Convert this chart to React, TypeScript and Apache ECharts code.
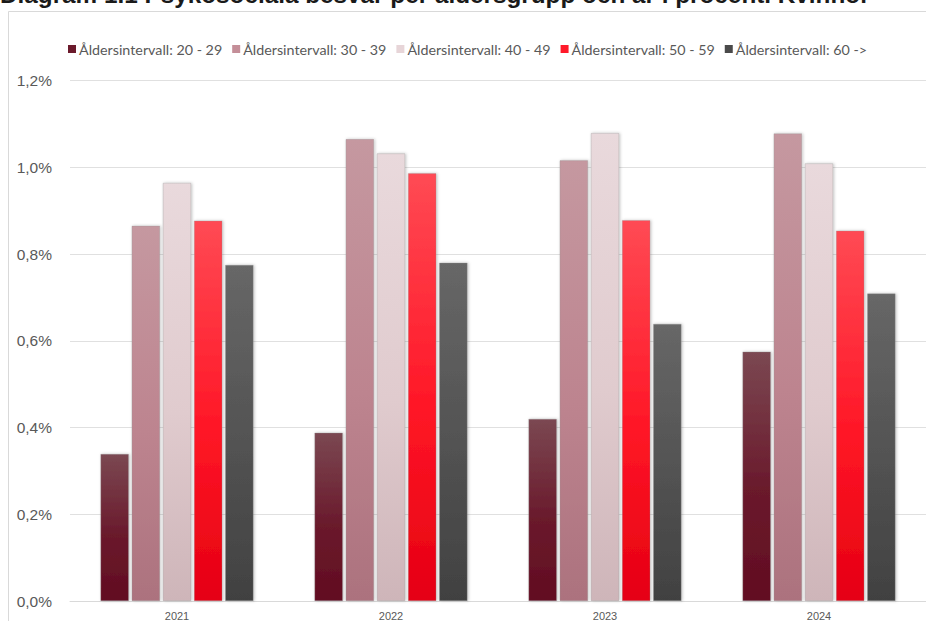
import React, { useEffect, useRef } from "react";
import * as echarts from "echarts";

const titleText = "Diagram 1.1 Psykosociala besvär per åldersgrupp och år i procent. Kvinnor";
const years = ["2021", "2022", "2023", "2024"];
const seriesNames = [
  "Åldersintervall: 20 - 29",
  "Åldersintervall: 30 - 39",
  "Åldersintervall: 40 - 49",
  "Åldersintervall: 50 - 59",
  "Åldersintervall: 60 ->",
];
const age20_29 = [0.339, 0.388, 0.42, 0.575];
const age30_39 = [0.865, 1.065, 1.016, 1.078];
const age40_49 = [0.964, 1.032, 1.079, 1.009];
const age50_59 = [0.877, 0.986, 0.878, 0.854];
const age60plus = [0.775, 0.78, 0.639, 0.709];
const yTicks = [0, 0.2, 0.4, 0.6, 0.8, 1.0, 1.2];

const seriesValues = [age20_29, age30_39, age40_49, age50_59, age60plus];
const gradients = [
  ["#7b4852", "#6a1a2c", "#620c21"],
  ["#c598a0", "#bd848f", "#ac727e"],
  ["#e9d9dc", "#e0cbce", "#ceb5b9"],
  ["#ff4a54", "#ff1626", "#e50012"],
  ["#676767", "#525252", "#414141"],
];
const legendColors = ["#6b1a2c", "#c48e98", "#e7d5d8", "#ff1a2a", "#4a4a4a"];

export default function App() {
  const ref = useRef<HTMLDivElement>(null);
  useEffect(() => {
    if (!ref.current) return;
    const chart = echarts.init(ref.current, undefined, { renderer: "svg" });
    const series = seriesNames.map((name, i) => ({
      name,
      type: "bar",
      data: seriesValues[i],
      barGap: "10%",
      barCategoryGap: "28.5%",
      itemStyle: {
        color: new echarts.graphic.LinearGradient(0, 0, 0, 1, [
          { offset: 0, color: gradients[i][0] },
          { offset: 0.55, color: gradients[i][1] },
          { offset: 1, color: gradients[i][2] },
        ]),
        borderColor: "rgba(150,150,150,0.55)",
        borderWidth: 0.6,
        shadowBlur: 3,
        shadowColor: "rgba(0,0,0,0.25)",
        shadowOffsetX: 1,
      },
    }));
    chart.setOption({
      animation: false,
      backgroundColor: "#ffffff",
      textStyle: { fontFamily: "Liberation Sans, Arial, sans-serif" },
      graphic: [
        {
          type: "rect",
          shape: { x: 8.5, y: 11.5, width: 1000, height: 1000 },
          style: { fill: "none", stroke: "#d9d9d9", lineWidth: 1 },
          silent: true,
        },
        {
          type: "text",
          x: 0,
          y: 6,
          style: {
            text: titleText,
            fontFamily: "Liberation Sans, Arial, sans-serif",
            fontWeight: "bold",
            fontSize: 24.3,
            fill: "#1a1a1a",
            textVerticalAlign: "bottom",
            verticalAlign: "bottom",
          },
          silent: true,
        },
      ],
      legend: {
        top: 37,
        left: 63,
        itemWidth: 8,
        itemHeight: 8,
        itemGap: 10,
        icon: "rect",
        textStyle: { color: "#595959", fontSize: 14.3, fontFamily: "Lato, sans-serif", padding: [0, 0, 0, -2] },
        data: seriesNames.map((n, i) => ({ name: n, itemStyle: { color: legendColors[i], borderWidth: 0, shadowBlur: 0 } })),
      },
      grid: { left: 70, right: 0, top: 80.5, bottom: 20, containLabel: false },
      xAxis: {
        type: "category",
        data: years,
        axisLine: { show: true, lineStyle: { color: "#d9d9d9" } },
        axisTick: { show: false },
        axisLabel: { color: "#595959", fontSize: 11, margin: 9 },
      },
      yAxis: {
        type: "value",
        min: yTicks[0],
        max: yTicks[yTicks.length - 1],
        interval: 0.2,
        axisLine: { show: false },
        axisTick: { show: false },
        splitLine: { lineStyle: { color: "#e0e0e0" } },
        axisLabel: {
          color: "#595959",
          fontSize: 15.5,
          margin: 18,
          formatter: (v: number) => v.toFixed(1).replace(".", ",") + "%",
        },
      },
      series,
    });
    return () => chart.dispose();
  }, []);
  return <div ref={ref} style={{ position: "absolute", left: 0, top: 0, width: 926, height: 621 }} />;
}
